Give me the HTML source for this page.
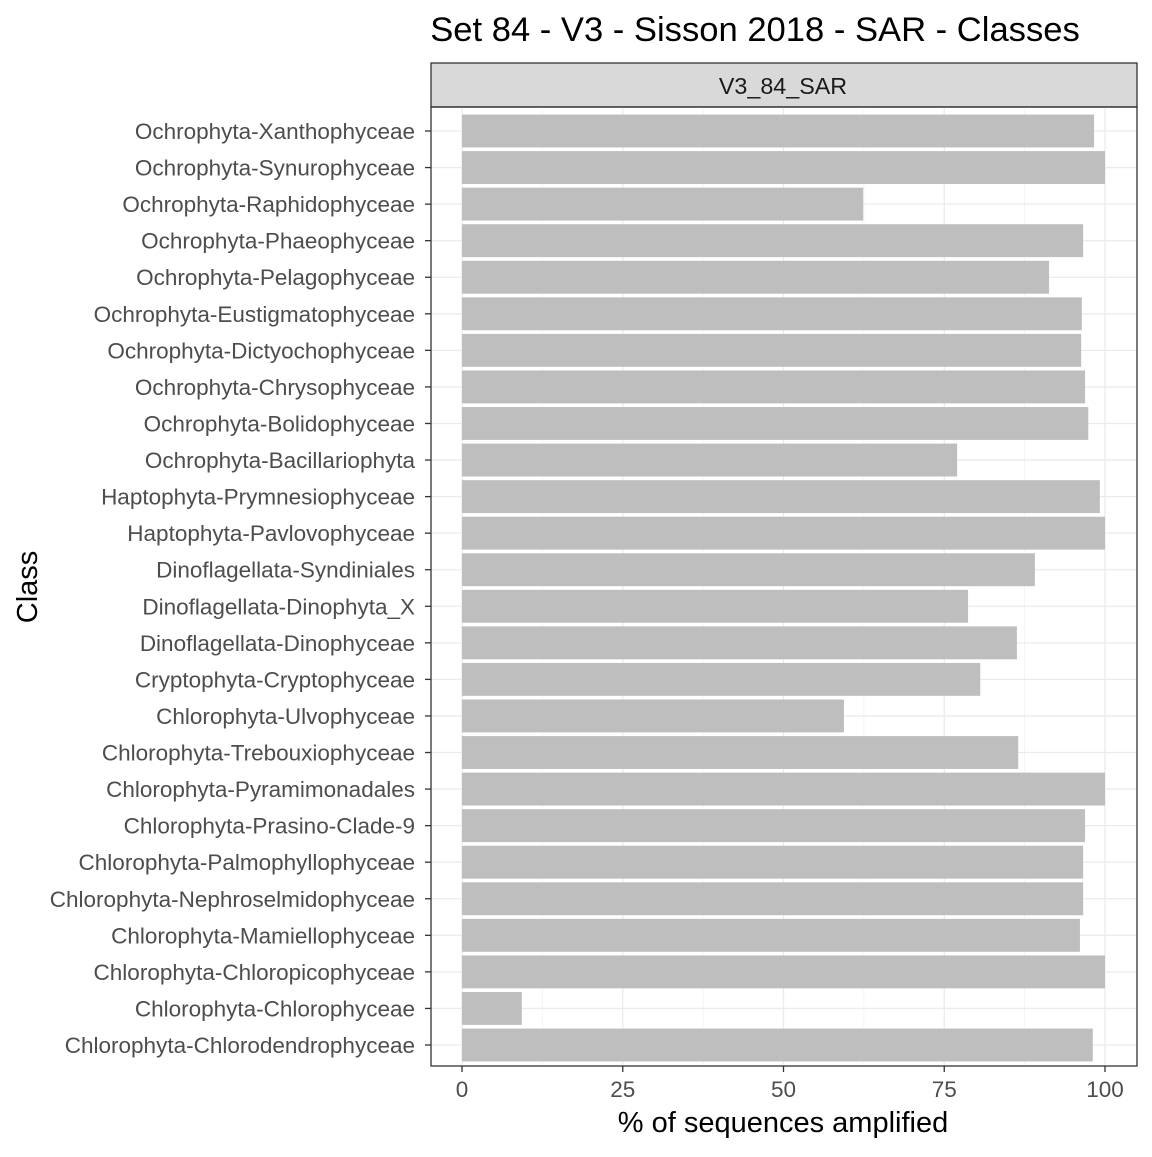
<!DOCTYPE html>
<html><head><meta charset="utf-8"><style>
body{margin:0;background:#fff;}
svg text{font-family:"Liberation Sans",Arial,sans-serif;}
</style></head><body>
<svg id="chart" width="1152" height="1152" xmlns="http://www.w3.org/2000/svg">
<text x="755" y="41" font-size="34.6" text-anchor="middle" fill="#000">Set 84 - V3 - Sisson 2018 - SAR - Classes</text>
<rect x="431" y="63" width="706" height="44" fill="#d9d9d9" stroke="#333" stroke-width="1.3"/>
<text x="783" y="94" font-size="23.3" text-anchor="middle" fill="#1a1a1a">V3_84_SAR</text>
<g id="grid"></g><g id="bars"></g><g id="yaxis"></g><g id="xaxis"></g>
<rect x="431" y="107" width="706" height="959" fill="none" stroke="#333" stroke-width="1.3"/>
<text x="783" y="1132" font-size="29" text-anchor="middle" fill="#000">% of sequences amplified</text>
<text transform="translate(37,587) rotate(-90)" font-size="29" text-anchor="middle" fill="#000">Class</text>
</svg>
<script>
const categories=["Ochrophyta-Xanthophyceae","Ochrophyta-Synurophyceae","Ochrophyta-Raphidophyceae","Ochrophyta-Phaeophyceae","Ochrophyta-Pelagophyceae","Ochrophyta-Eustigmatophyceae","Ochrophyta-Dictyochophyceae","Ochrophyta-Chrysophyceae","Ochrophyta-Bolidophyceae","Ochrophyta-Bacillariophyta","Haptophyta-Prymnesiophyceae","Haptophyta-Pavlovophyceae","Dinoflagellata-Syndiniales","Dinoflagellata-Dinophyta_X","Dinoflagellata-Dinophyceae","Cryptophyta-Cryptophyceae","Chlorophyta-Ulvophyceae","Chlorophyta-Trebouxiophyceae","Chlorophyta-Pyramimonadales","Chlorophyta-Prasino-Clade-9","Chlorophyta-Palmophyllophyceae","Chlorophyta-Nephroselmidophyceae","Chlorophyta-Mamiellophyceae","Chlorophyta-Chloropicophyceae","Chlorophyta-Chlorophyceae","Chlorophyta-Chlorodendrophyceae"];
const values=[98.3,100,62.4,96.6,91.3,96.4,96.3,96.9,97.4,77.0,99.2,100,89.1,78.7,86.3,80.6,59.4,86.5,100,96.9,96.6,96.6,96.1,100,9.3,98.1];
const xTicks=[0,25,50,75,100];
const NS="http://www.w3.org/2000/svg";
const x=v=>462+v*6.43;
const step=(1045-131)/(categories.length-1);
const y=i=>131+i*step;
function mk(t,a,p){const e=document.createElementNS(NS,t);for(const k in a)e.setAttribute(k,a[k]);p.appendChild(e);return e;}
const grid=document.getElementById('grid'),bars=document.getElementById('bars'),ya=document.getElementById('yaxis'),xa=document.getElementById('xaxis');
for(let i=0;i<xTicks.length;i++){
 const v=xTicks[i];
 const g=mk('line',{x1:x(v),x2:x(v),y1:107,y2:1066,stroke:'#ebebeb','stroke-width':1.3},grid);
 
 
 if(i<xTicks.length-1){const m=(v+xTicks[i+1])/2;const mg=mk('line',{x1:x(m),x2:x(m),y1:107,y2:1066,stroke:'#f2f2f2','stroke-width':0.8},grid);
 
 }
 const tk=mk('line',{x1:x(v),x2:x(v),y1:1066,y2:1072,stroke:'#333','stroke-width':1.3},xa);
 
 
 const t=mk('text',{x:x(v),y:1097,'font-size':22.5,'text-anchor':'middle',fill:'#4d4d4d'},xa);t.textContent=v;
 
 
}
categories.forEach((c,i)=>{
 const gl=mk('line',{x1:431,x2:1137,y1:y(i),y2:y(i),stroke:'#ebebeb','stroke-width':1.3},grid);
 
 
 const h=step*0.9;
 const b=mk('rect',{x:x(0),y:y(i)-h/2,width:x(values[i])-x(0),height:h,fill:'#bebebe'},bars);
 
 
 const tk=mk('line',{x1:425,x2:431,y1:y(i),y2:y(i),stroke:'#333','stroke-width':1.3},ya);
 
 
 const t=mk('text',{x:415,y:y(i)+8,'font-size':22.5,'text-anchor':'end',fill:'#4d4d4d'},ya);t.textContent=c;
 
 
});
</script>
</body></html>
